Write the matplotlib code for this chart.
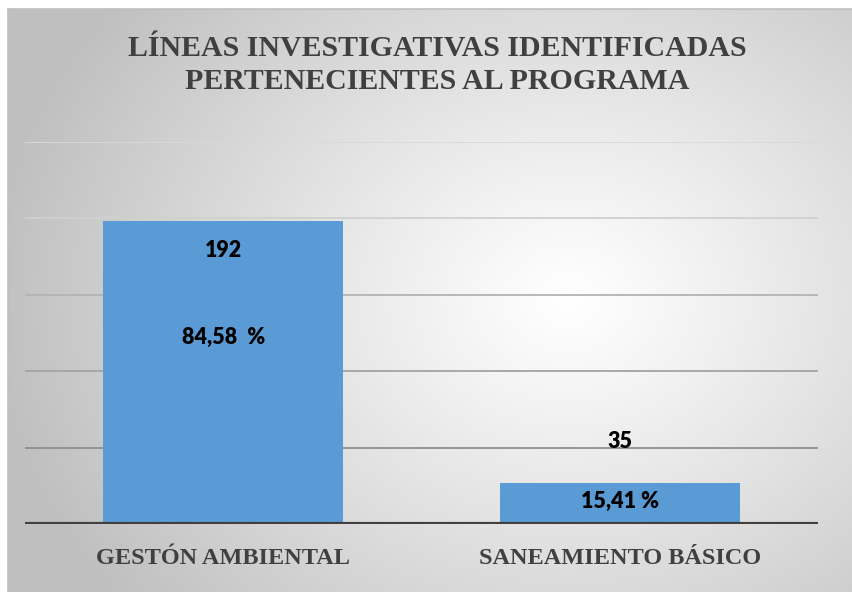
import numpy as np
import matplotlib.pyplot as plt

# Datos
categorias = ["GESTÓN AMBIENTAL", "SANEAMIENTO BÁSICO"]
alturas = [198, 27]          # altura visible de las barras (escala de la gráfica)
cantidades = ["192", "35"]
porcentajes = ["84,58  %", "15,41 %"]
titulo = "LÍNEAS INVESTIGATIVAS IDENTIFICADAS\nPERTENECIENTES AL PROGRAMA"

serif = ["Liberation Serif", "DejaVu Serif"]

fig = plt.figure(figsize=(8.52, 5.92), dpi=100)

# Fondo con degradado radial
fondo = fig.add_axes([8 / 852, 0, 1 - 8 / 852, 1 - 9 / 592], zorder=0)
yy, xx = np.mgrid[0:583, 0:844]
cx, cy = 560, 290
r = np.sqrt(((xx - cx) / 580.0) ** 2 + ((yy - cy) / 480.0) ** 2)
r = np.clip(r, 0, 1)
gris = 1.0 - 0.25 * r ** 1.1
fondo.imshow(np.dstack([gris, gris, gris]), aspect="auto", extent=[0, 1, 0, 1])
fondo.set_xticks([])
fondo.set_yticks([])
for lado in ["right", "bottom"]:
    fondo.spines[lado].set_visible(False)
for lado in ["left", "top"]:
    fondo.spines[lado].set_color("#bfbfbf")
    fondo.spines[lado].set_linewidth(1.2)

ax = fig.add_axes([25 / 852, 1 - 524 / 592, 793 / 852, (524 - 141.5) / 592], zorder=1)
ax.patch.set_alpha(0)

x = np.arange(len(categorias))
lineas = [(50, "#8f8f8f"), (100, "#a3a3a3"), (150, "#b3b3b3"), (200, "#d0d0d0"), (250, "#d9d9d9")]
for valor, color in lineas:
    ax.axhline(valor, color=color, linewidth=1.3, zorder=1)

ax.bar(x, alturas, width=0.606, color="#5b9bd5", zorder=2)
ax.axhline(0, color="#404040", linewidth=3, zorder=3)

ax.set_xlim(-0.5, 1.5)
ax.set_ylim(0, 250)
ax.set_yticks([])
ax.set_xticks(x)
ax.set_xticklabels(categorias, fontfamily=serif, fontweight="bold",
                   fontsize=17.5, color="#404040")
ax.tick_params(axis="x", length=0, pad=17)
for s in ax.spines.values():
    s.set_visible(False)

# Etiquetas de datos
etiqueta = dict(ha="center", va="center", fontfamily="Lato", fontweight="heavy",
                fontsize=15.5, color="black", zorder=4)
ax.text(x[0], 179, cantidades[0], **etiqueta)
ax.text(x[0], 122, porcentajes[0], **etiqueta)
ax.text(x[1], 54, cantidades[1], **etiqueta)
ax.text(x[1], 15, porcentajes[1], **etiqueta)

fig.text(437 / 852, 1 - 65 / 592, titulo, ha="center", va="center",
         fontfamily=serif, fontweight="bold", fontsize=21.5,
         color="#404040", linespacing=1.3)

fig.savefig("out.png", dpi=100)
